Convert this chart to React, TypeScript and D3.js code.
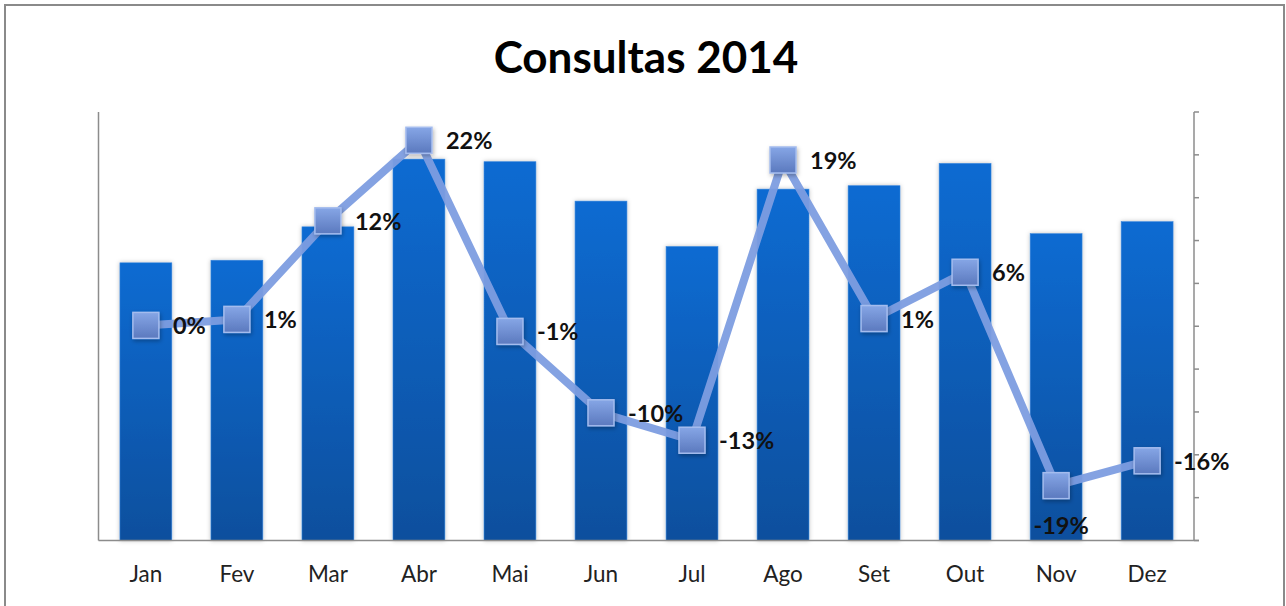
import React from 'react'
import * as d3 from 'd3'

// chart values
const months = ['Jan', 'Fev', 'Mar', 'Abr', 'Mai', 'Jun', 'Jul', 'Ago', 'Set', 'Out', 'Nov', 'Dez']
const consultas = [3240, 3270, 3660, 4450, 4420, 3960, 3430, 4100, 4140, 4400, 3580, 3720]
const variacao = [0.1, 0.8, 12.3, 21.7, -0.6, -10.1, -13.3, 19.4, 0.9, 6.3, -18.6, -15.7]
const labelBelow = ['Nov']
const pctTicks = d3.range(-25, 26, 5)

const W = 1286
const H = 606
const margin = { top: 112, right: 92, bottom: 65.5, left: 99 }
const FONT = 'Lato, "Open Sans", sans-serif'

export default function App() {
  const innerBottom = H - margin.bottom
  const innerRight = W - margin.right

  const x = d3.scaleBand<string>()
    .domain(months)
    .range([margin.left, innerRight])
    .paddingInner(0.43)
    .paddingOuter(0.23)

  const yBar = d3.scaleLinear().domain([0, 5000]).range([innerBottom, margin.top])
  const yPct = d3.scaleLinear().domain([-25, 25]).range([innerBottom, margin.top])

  const pts = months.map((m, i) => ({ m, v: variacao[i], cx: x(m)! + x.bandwidth() / 2, cy: yPct(variacao[i]) }))
  const linePath = d3.line<{ cx: number; cy: number }>().x(d => d.cx).y(d => d.cy)(pts)
  // plain hyphen for negatives, like the original
  const fmt = (v: number) => Math.round(v) + '%'

  const mk = 26

  return (
    <svg width={W} height={H} style={{ position: 'absolute', left: 0, top: 0, background: '#fff' }}>
      <defs>
        <linearGradient id="barGrad" x1="0" y1="0" x2="0" y2="1">
          <stop offset="0" stopColor="#0b6bd2" />
          <stop offset="1" stopColor="#0a4f9d" />
        </linearGradient>
        <linearGradient id="mkGrad" x1="0" y1="0" x2="0" y2="1">
          <stop offset="0" stopColor="#86a6e6" />
          <stop offset="1" stopColor="#5b79be" />
        </linearGradient>
        <filter id="shadow" x="-30%" y="-30%" width="160%" height="160%">
          <feDropShadow dx="1" dy="2" stdDeviation="2" floodColor="#000" floodOpacity="0.3" />
        </filter>
        <filter id="barShadow" x="-20%" y="-5%" width="140%" height="110%">
          <feDropShadow dx="0" dy="0" stdDeviation="2" floodColor="#000" floodOpacity="0.25" />
        </filter>
      </defs>

      <rect x={5} y={5} width={1279} height={620} fill="#fff" stroke="#8a8a8a" strokeWidth={2} />

      <text x={646} y={73} textAnchor="middle" fontFamily={FONT} fontWeight="bold" fontSize={44} fill="#000">
        Consultas 2014
      </text>

      {/* bars */}
      <g filter="url(#barShadow)">
        {months.map((m, i) => (
          <rect key={m} x={x(m)} y={yBar(consultas[i])} width={x.bandwidth()}
            height={innerBottom - yBar(consultas[i])} fill="url(#barGrad)" stroke="#3a86dc" strokeWidth={0.6} />
        ))}
      </g>

      {/* axes */}
      <g stroke="#8c8c8c" strokeWidth={1.5} fill="none">
        <line x1={margin.left - 0.5} x2={margin.left - 0.5} y1={margin.top} y2={innerBottom} />
        <line x1={margin.left - 0.5} x2={innerRight + 5} y1={innerBottom} y2={innerBottom} />
        <line x1={innerRight} x2={innerRight} y1={margin.top} y2={innerBottom} />
        {pctTicks.map(t => (
          <line key={t} x1={innerRight} x2={innerRight + 5} y1={yPct(t)} y2={yPct(t)} />
        ))}
      </g>

      {months.map(m => (
        <text key={m} x={x(m)! + x.bandwidth() / 2} y={582} textAnchor="middle"
          fontFamily={FONT} fontSize={22.5} fill="#222">{m}</text>
      ))}

      {/* line + markers */}
      <path d={linePath ?? ''} fill="none" stroke="#7d9de0" strokeWidth={8} strokeLinejoin="round" opacity={0.95} />
      {pts.map(p => (
        <rect key={p.m} x={p.cx - mk / 2} y={p.cy - mk / 2} width={mk} height={mk}
          fill="url(#mkGrad)" stroke="#a4bcee" strokeWidth={1.5} filter="url(#shadow)" />
      ))}

      {pts.map(p => {
        const below = labelBelow.includes(p.m)
        return (
          <text key={p.m} x={below ? p.cx + 5 : p.cx + 27} y={below ? p.cy + 48 : p.cy + 9}
            textAnchor={below ? 'middle' : 'start'} fontFamily={FONT} fontWeight="bold" fontSize={23.5} fill="#111">
            {fmt(p.v)}
          </text>
        )
      })}
    </svg>
  )
}
